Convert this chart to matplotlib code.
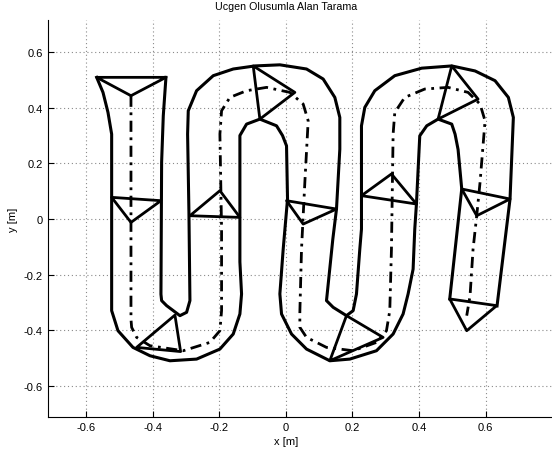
import matplotlib
matplotlib.use('Agg')
import matplotlib.pyplot as plt

plt.rcParams['font.family'] = ['Liberation Sans', 'DejaVu Sans']
plt.rcParams['axes.unicode_minus'] = False

# center path (dash-dot)
path_x = [-0.465, -0.465, -0.463, -0.448, -0.408, -0.308, -0.228, -0.198, -0.193, -0.193,
          -0.198, -0.193, -0.168, -0.118, -0.058, 0.012, 0.052, 0.067, 0.057, 0.047,
          0.042, 0.042, 0.062, 0.122, 0.202, 0.272, 0.302, 0.312, 0.317, 0.322,
          0.327, 0.357, 0.417, 0.487, 0.547, 0.583, 0.598, 0.583, 0.573, 0.562,
          0.553, 0.543]
path_y = [0.443, -0.360, -0.389, -0.425, -0.455, -0.473, -0.443, -0.401, -0.329, -0.036,
          0.305, 0.389, 0.437, 0.461, 0.473, 0.455, 0.413, 0.353, 0.132, -0.108,
          -0.335, -0.389, -0.425, -0.461, -0.473, -0.443, -0.401, -0.329, -0.108, 0.305,
          0.383, 0.437, 0.467, 0.473, 0.455, 0.413, 0.353, 0.132, 0.012, -0.108,
          -0.275, -0.347]

# swept area boundary, first edge
edge1_x = [-0.568, -0.549, -0.534, -0.523, -0.523, -0.504, -0.459, -0.408, -0.348, -0.268,
           -0.198, -0.158, -0.138, -0.133, -0.138, -0.138, -0.118, -0.078, -0.028, -0.010,
           0.002, 0.005, -0.008, -0.018, -0.013, 0.017, 0.062, 0.132, 0.192, 0.272,
           0.322, 0.352, 0.367, 0.382, 0.387, 0.392, 0.402, 0.423, 0.457, 0.498,
           0.508, 0.517, 0.528, 0.492]
edge1_y = [0.509, 0.455, 0.383, 0.305, -0.329, -0.401, -0.461, -0.491, -0.509, -0.503,
           -0.467, -0.413, -0.341, -0.269, -0.154, 0.300, 0.341, 0.359, 0.335, 0.300,
           0.263, 0.072, -0.108, -0.269, -0.341, -0.413, -0.467, -0.509, -0.503, -0.473,
           -0.413, -0.341, -0.269, -0.180, -0.036, 0.054, 0.299, 0.335, 0.359, 0.341,
           0.305, 0.250, 0.108, -0.287]

# swept area boundary, second edge
edge2_x = [-0.360, -0.368, -0.373, -0.375, -0.373, -0.358, -0.318, -0.298, -0.288, -0.291,
           -0.295, -0.293, -0.268, -0.218, -0.158, -0.093, -0.018, 0.062, 0.112, 0.147,
           0.162, 0.162, 0.152, 0.141, 0.122, 0.142, 0.182, 0.202, 0.212, 0.222,
           0.227, 0.227, 0.237, 0.267, 0.327, 0.408, 0.498, 0.568, 0.628, 0.668,
           0.683, 0.673, 0.634]
edge2_y = [0.509, 0.371, 0.204, -0.270, -0.293, -0.311, -0.347, -0.335, -0.293, 0.025,
           0.305, 0.389, 0.461, 0.515, 0.539, 0.550, 0.554, 0.539, 0.503, 0.437,
           0.365, 0.251, 0.036, -0.072, -0.293, -0.317, -0.347, -0.329, -0.269, -0.108,
           -0.036, 0.335, 0.401, 0.461, 0.515, 0.542, 0.550, 0.532, 0.497, 0.437,
           0.365, 0.072, -0.312]

# triangles (three corners each)
tri_x = [[-0.568, -0.360, -0.465],
         [-0.523, -0.375, -0.465],
         [-0.448, -0.333, -0.316],
         [-0.288, -0.138, -0.198],
         [-0.098, 0.027, -0.078],
         [0.002, 0.152, 0.052],
         [0.132, 0.182, 0.292],
         [0.227, 0.392, 0.317],
         [0.498, 0.577, 0.457],
         [0.528, 0.673, 0.573],
         [0.492, 0.633, 0.543]]
tri_y = [[0.509, 0.509, 0.443],
         [0.078, 0.066, -0.012],
         [-0.461, -0.345, -0.476],
         [0.012, 0.006, 0.102],
         [0.550, 0.455, 0.359],
         [0.066, 0.036, -0.018],
         [-0.509, -0.347, -0.425],
         [0.084, 0.054, 0.162],
         [0.550, 0.431, 0.359],
         [0.108, 0.072, 0.012],
         [-0.287, -0.311, -0.401]]

fig = plt.figure(figsize=(5.52, 4.56), dpi=100)
ax = fig.add_axes([47.7/552, 38/456, (552-47.7)/552, (418-21)/456])

ax.plot(edge1_x, edge1_y, color='k', lw=2.2, solid_joinstyle='round')
ax.plot(edge2_x, edge2_y, color='k', lw=2.2, solid_joinstyle='round')
for tx, ty in zip(tri_x, tri_y):
    ax.fill(tx, ty, fill=False, edgecolor='k', lw=2.0, joinstyle='round')
ax.plot(path_x, path_y, color='k', lw=2.0, linestyle=(0, (4, 2, 1, 2)))

ax.set_xlim(-0.715, 0.799)
ax.set_ylim(-0.711, 0.715)
ticks = [-0.6, -0.4, -0.2, 0, 0.2, 0.4, 0.6]
labels = ['-0.6', '-0.4', '-0.2', '0', '0.2', '0.4', '0.6']
ax.set_xticks(ticks)
ax.set_xticklabels(labels)
ax.set_yticks(ticks)
ax.set_yticklabels(labels)
ax.tick_params(direction='in', length=4, labelsize=8, width=0.8)
ax.spines['top'].set_visible(False)
ax.spines['right'].set_visible(False)
ax.grid(True, linestyle=(0, (1, 2.5)), color='#8a8a8a', linewidth=0.8)
ax.set_axisbelow(True)

# centred on x = 0 like the original figure
mid = 0.715 / (0.715 + 0.799)
ax.set_xlabel('x [m]', fontsize=8, labelpad=3, x=mid)
ax.set_ylabel('y [m]', fontsize=8, labelpad=4)
ax.set_title('Ucgen Olusumla Alan Tarama', fontsize=7.7, pad=8, x=mid)

fig.savefig('out.png', dpi=100)
